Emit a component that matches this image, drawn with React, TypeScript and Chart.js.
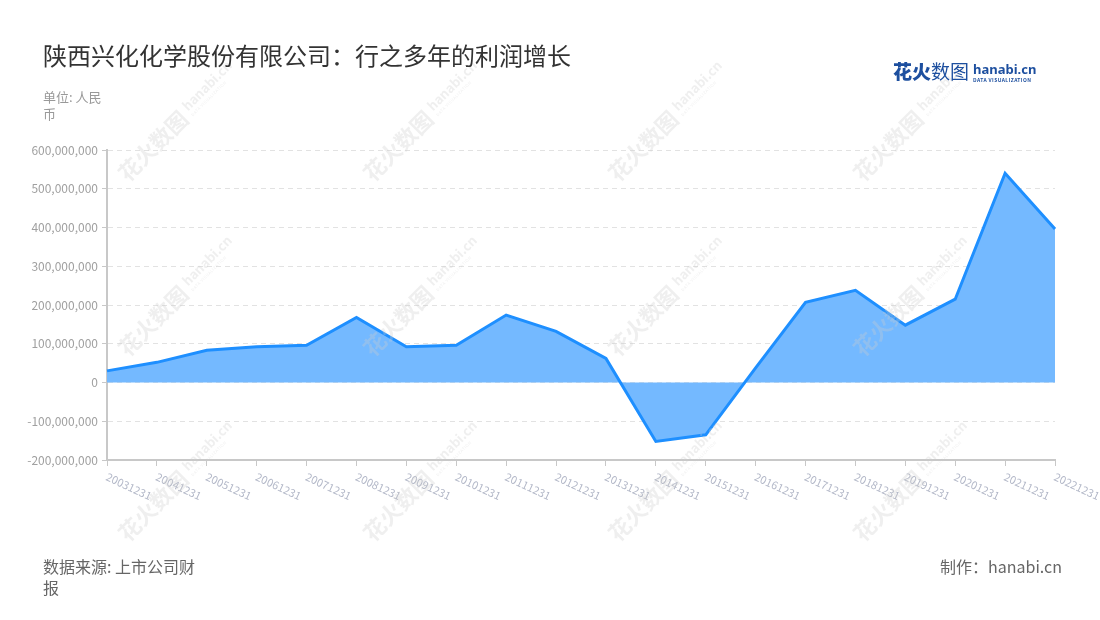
import React, { useEffect, useRef } from "react";
import { Chart, registerables } from "chart.js";

Chart.register(...registerables);

const FONT = '"Noto Sans CJK SC", "Noto Sans", sans-serif';

const categories: string[] = [
  "20031231", "20041231", "20051231", "20061231", "20071231",
  "20081231", "20091231", "20101231", "20111231", "20121231",
  "20131231", "20141231", "20151231", "20161231", "20171231",
  "20181231", "20191231", "20201231", "20211231", "20221231",
];

const profit: number[] = [
  30e6, 52e6, 83e6, 92e6, 96e6,
  168e6, 92e6, 96e6, 174e6, 132e6,
  62e6, -152e6, -135e6, 38e6, 207e6,
  238e6, 148e6, 215e6, 540e6, 396e6,
];

const yMin = -200e6;
const yMax = 600e6;
const yStep = 100e6;

const title = "陕西兴化化学股份有限公司：行之多年的利润增长";
const unitText = "单位: 人民币";
const sourceText = "数据来源: 上市公司财报";
const makerText = "制作：hanabi.cn";

const wmCols = [130, 375, 620, 865];
const wmRows = [185, 360, 545];

const xLabelPlugin = {
  id: "rotatedXLabels",
  afterDraw(chart: any) {
    const xs = chart.scales.x;
    const ctx = chart.ctx;
    ctx.save();
    ctx.font = `11px ${FONT}`;
    ctx.fillStyle = "#b3b8c8";
    ctx.textAlign = "left";
    ctx.textBaseline = "top";
    const bottom = chart.chartArea.bottom;
    categories.forEach((lab, i) => {
      const x = xs.getPixelForTick(i);
      ctx.save();
      ctx.translate(x + 2, bottom + 11);
      ctx.rotate((25 * Math.PI) / 180);
      ctx.fillText(lab, 0, 0);
      ctx.restore();
    });
    ctx.restore();
  },
};

function Watermark({ x, y }: { x: number; y: number }) {
  return (
    <div
      style={{
        position: "absolute",
        left: x,
        top: y - 26,
        height: 26,
        transform: "rotate(-45deg)",
        transformOrigin: "0 100%",
        whiteSpace: "nowrap",
        color: "rgba(205,205,205,0.32)",
        fontFamily: FONT,
        display: "flex",
        alignItems: "flex-end",
        pointerEvents: "none",
      }}
    >
      <span style={{ fontSize: 22, fontWeight: 700, lineHeight: "26px" }}>花火数图</span>
      <span style={{ display: "inline-flex", flexDirection: "column", marginLeft: 5, marginBottom: 3 }}>
        <span style={{ fontSize: 13, fontWeight: 700, lineHeight: "14px" }}>hanabi.cn</span>
        <span style={{ fontSize: 4, lineHeight: "6px", letterSpacing: 0.5 }}>DATA VISUALIZATION</span>
      </span>
    </div>
  );
}

export default function App() {
  const canvasRef = useRef<HTMLCanvasElement | null>(null);

  useEffect(() => {
    if (!canvasRef.current) return;
    const chart = new Chart(canvasRef.current, {
      type: "line",
      data: {
        labels: categories,
        datasets: [
          {
            data: profit,
            borderColor: "#1e8fff",
            backgroundColor: "rgba(116,185,255,1)",
            borderWidth: 3,
            fill: "origin",
            pointRadius: 0,
            tension: 0,
          },
        ],
      },
      options: {
        animation: false,
        responsive: false,
        plugins: { legend: { display: false }, tooltip: { enabled: false } },
        layout: { padding: { top: 150, right: 45, left: 0, bottom: 0 } },
        scales: {
          x: {
            type: "category",
            offset: false,
            grid: {
              display: true,
              drawOnChartArea: false,
              drawTicks: true,
              tickLength: 6,
              tickColor: "#c8c8c8",
              color: "#c8c8c8",
            },
            border: { display: true, color: "#c8c8c8", width: 2 },
            ticks: { display: false },
            afterFit: (s: any) => {
              s.height = 160;
            },
          },
          y: {
            min: yMin,
            max: yMax,
            ticks: {
              stepSize: yStep,
              color: "#a0a0a0",
              font: { size: 12, family: FONT },
              padding: 4,
              callback: (v: any) => Number(v).toLocaleString("en-US"),
            },
            grid: {
              color: "#e2e2e2",
              lineWidth: 1,
              tickColor: "#c8c8c8",
              tickLength: 5,
            },
            border: { display: true, color: "#c8c8c8", width: 2, dash: [5, 4] },
            afterFit: (s: any) => {
              s.width = 107;
            },
          },
        },
      },
      plugins: [xLabelPlugin],
    } as any);
    return () => chart.destroy();
  }, []);

  return (
    <div
      style={{
        position: "absolute",
        left: 0,
        top: 0,
        width: 1100,
        height: 620,
        background: "#fff",
        overflow: "hidden",
        fontFamily: FONT,
      }}
    >
      <canvas
        ref={canvasRef}
        width={1100}
        height={620}
        style={{ position: "absolute", left: 0, top: 0, width: 1100, height: 620 }}
      />
      <div style={{ position: "absolute", left: 0, top: 0, width: 1100, height: 620, pointerEvents: "none" }}>
        {wmRows.map((r) => wmCols.map((c) => <Watermark key={`${r}-${c}`} x={c} y={r} />))}
      </div>
      <div
        style={{
          position: "absolute",
          left: 43,
          top: 40,
          fontSize: 24,
          lineHeight: "30px",
          color: "#333",
          whiteSpace: "nowrap",
        }}
      >
        {title}
      </div>
      <div
        style={{
          position: "absolute",
          left: 43,
          top: 88,
          width: 64,
          fontSize: 13,
          lineHeight: "17px",
          color: "#999",
        }}
      >
        {unitText}
      </div>
      <div style={{ position: "absolute", left: 893, top: 59, display: "flex", alignItems: "flex-start", color: "#1d4f9f" }}>
        <span style={{ fontSize: 19, lineHeight: "24px", whiteSpace: "nowrap" }}>
          <span style={{ fontWeight: 900 }}>花火</span>
          <span style={{ fontWeight: 400 }}>数图</span>
        </span>
        <span style={{ display: "inline-flex", flexDirection: "column", marginLeft: 4, marginTop: 4 }}>
          <span style={{ fontSize: 13, fontWeight: 700, lineHeight: "13px", fontFamily: '"Noto Sans", sans-serif' }}>
            hanabi.cn
          </span>
          <span style={{ fontSize: 5, lineHeight: "8px", letterSpacing: 0.4, fontWeight: 700 }}>DATA VISUALIZATION</span>
        </span>
      </div>
      <div
        style={{
          position: "absolute",
          left: 43,
          top: 556,
          width: 160,
          fontSize: 16,
          lineHeight: "21px",
          color: "#666",
        }}
      >
        {sourceText}
      </div>
      <div
        style={{
          position: "absolute",
          right: 38,
          top: 556,
          fontSize: 16,
          lineHeight: "21px",
          color: "#666",
          whiteSpace: "nowrap",
        }}
      >
        {makerText}
      </div>
    </div>
  );
}
